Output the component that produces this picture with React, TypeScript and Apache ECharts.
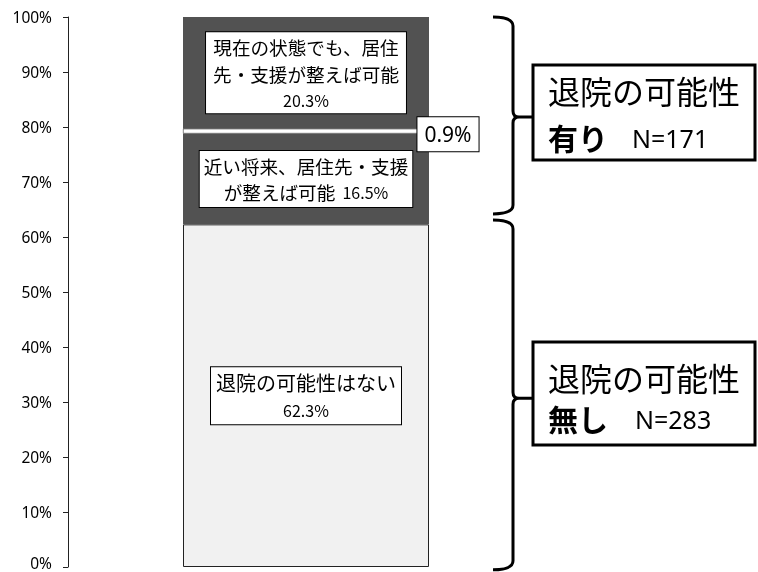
import React, { useEffect, useRef } from "react";
import * as echarts from "echarts";

// ---- data ----
const categories = ["入院患者"];
const segmentNames = [
  "退院の可能性はない",
  "近い将来、居住先・支援が整えば可能",
  "その他",
  "現在の状態でも、居住先・支援が整えば可能",
];
const segmentValues = [62.3, 16.5, 0.9, 20.3];
const segmentLabelLines = [
  ["退院の可能性はない"],
  ["近い将来、居住先・支援", "が整えば可能"],
  [],
  ["現在の状態でも、居住", "先・支援が整えば可能"],
];
const groupTitles = ["退院の可能性", "退院の可能性"];
const groupTags = ["有り", "無し"];
const groupCounts = [171, 283];
// bracket spans on the value axis (top, middle, bottom), %
const bracketSpans = [
  [100, 81.8, 64.2],
  [63.1, 30.7, -0.5],
];

const JP = "'Noto Sans CJK JP', 'Noto Sans', sans-serif";
const LAT = "'Noto Sans', 'Noto Sans CJK JP', sans-serif";

export default function App() {
  const ref = useRef<HTMLDivElement>(null);
  useEffect(() => {
    if (!ref.current) return;
    const chart = echarts.init(ref.current, null, { renderer: "svg" });

    const dark = "#525252";
    const labelBase = {
      show: true,
      position: "inside",
      color: "#000",
      backgroundColor: "#fff",
      borderColor: "#000",
      borderWidth: 1,
    };

    const labelFor = (i: number, v: number): any => {
      const lines = segmentLabelLines[i];
      if (i === 0) {
        return {
          ...labelBase,
          padding: [1, 5],
          formatter: `{c|${lines[0]}}\n{b|${v}%}`,
          rich: {
            c: { fontSize: 20, lineHeight: 28, fontFamily: JP, color: "#000" },
            b: { fontSize: 16, lineHeight: 27, fontFamily: JP, color: "#000" },
          },
        };
      }
      if (i === 1) {
        return {
          ...labelBase,
          padding: [2, 4],
          formatter: `{a|${lines[0]}}\n{a|${lines[1]}}{b|  ${v}%}`,
          rich: {
            a: { fontSize: 18.6, lineHeight: 26, fontFamily: JP, color: "#000" },
            b: { fontSize: 16, lineHeight: 26, fontFamily: JP, color: "#000" },
          },
        };
      }
      if (i === 2) {
        return {
          ...labelBase,
          padding: [4, 7],
          offset: [142, 3],
          formatter: `{d|${v}%}`,
          rich: {
            d: { fontSize: 21, lineHeight: 26, fontFamily: LAT, color: "#000" },
          },
        };
      }
      return {
        ...labelBase,
        padding: [1, 7],
        formatter: `{a|${lines[0]}}\n{a|${lines[1]}}\n{b|${v}%}`,
        rich: {
          a: { fontSize: 18.6, lineHeight: 27, fontFamily: JP, color: "#000" },
          b: { fontSize: 16, lineHeight: 25, fontFamily: JP, color: "#000" },
        },
      };
    };

    const itemStyles = [
      { color: "#f1f1f1", borderColor: "#222", borderWidth: 1 },
      { color: dark },
      { color: "#ffffff", borderColor: "#333", borderWidth: 0.6 },
      { color: dark },
    ];

    const tickStyle = { fontSize: 15.5, fontFamily: "'Noto Sans'", color: "#000" };

    chart.setOption({
      animation: false,
      grid: {
        left: 68,
        right: 214,
        top: 17,
        bottom: 5,
        containLabel: false,
        outerBoundsMode: "none",
      },
      xAxis: {
        type: "category",
        data: categories,
        show: false,
      },
      yAxis: {
        type: "value",
        min: 0,
        max: 100,
        interval: 10,
        axisLine: { show: true, lineStyle: { color: "#222", width: 1 } },
        axisTick: { show: true, length: 5, lineStyle: { color: "#222" } },
        splitLine: { show: false },
        axisLabel: {
          formatter: (v: number) => (v === 0 ? `{z|${v}%}` : `{t|${v}%}`),
          margin: 16,
          ...tickStyle,
          rich: {
            t: { ...tickStyle },
            z: { ...tickStyle, padding: [0, 0, 9, 0] },
          },
        },
      },
      series: segmentValues.map((v, i) => ({
        type: "bar",
        name: segmentNames[i],
        stack: "total",
        barWidth: 246,
        data: [v],
        itemStyle: itemStyles[i],
        label: labelFor(i, v),
        z: i === 2 ? 3 : 2,
      })),
    });

    // brackets and group boxes, positioned from the value axis
    const yPix = (val: number) =>
      chart.convertToPixel({ yAxisIndex: 0 }, val) as number;
    const x0 = 493;
    const xv = 513;
    const xp = 533;
    const r = 9;
    const rm = 6;
    const graphics: any[] = [];
    bracketSpans.forEach((span, k) => {
      const yt = yPix(span[0]);
      const ym = yPix(span[1]);
      const yb = yPix(span[2]);
      const d =
        `M${x0},${yt} Q${xv},${yt} ${xv},${yt + r} L${xv},${ym - rm} ` +
        `Q${xv},${ym} ${xv + rm},${ym} L${xp},${ym} M${xv + rm},${ym} ` +
        `Q${xv},${ym} ${xv},${ym + rm} L${xv},${yb - r} Q${xv},${yb} ${x0},${yb}`;
      const name = "brace" + k;
      echarts.graphic.registerShape(name, echarts.graphic.extendPath(d, {}) as any);
      graphics.push({
        type: name,
        x: 0,
        y: 0,
        scaleX: 1,
        scaleY: 1,
        style: { fill: "none", stroke: "#000", lineWidth: 3 },
        z: 10,
      });
      const boxTop = k === 0 ? 65 : 342;
      const boxH = k === 0 ? 95 : 103;
      const cy1 = k === 0 ? 90 : 377;
      const cy2 = k === 0 ? 137 : 418;
      graphics.push({
        type: "rect",
        shape: { x: xp, y: boxTop, width: 222, height: boxH },
        style: { fill: "#fff", stroke: "#000", lineWidth: 3 },
        z: 10,
      });
      graphics.push({
        type: "text",
        x: 548,
        y: cy1,
        style: {
          text: groupTitles[k],
          font: `32px ${JP}`,
          fill: "#000",
          verticalAlign: "middle",
          textAlign: "left",
        },
        z: 11,
      });
      graphics.push({
        type: "text",
        x: 548,
        y: cy2,
        style: {
          text: groupTags[k],
          font: `bold 30px ${JP}`,
          fill: "#000",
          verticalAlign: "middle",
          textAlign: "left",
        },
        z: 11,
      });
      graphics.push({
        type: "text",
        x: k === 0 ? 632 : 635,
        y: cy2 + 1,
        style: {
          text: `N=${groupCounts[k]}`,
          font: `25px ${LAT}`,
          fill: "#000",
          verticalAlign: "middle",
          textAlign: "left",
        },
        z: 11,
      });
    });
    chart.setOption({ graphic: graphics });

    return () => chart.dispose();
  }, []);

  return (
    <div
      ref={ref}
      style={{ position: "fixed", left: 0, top: 0, width: 758, height: 572 }}
    />
  );
}
